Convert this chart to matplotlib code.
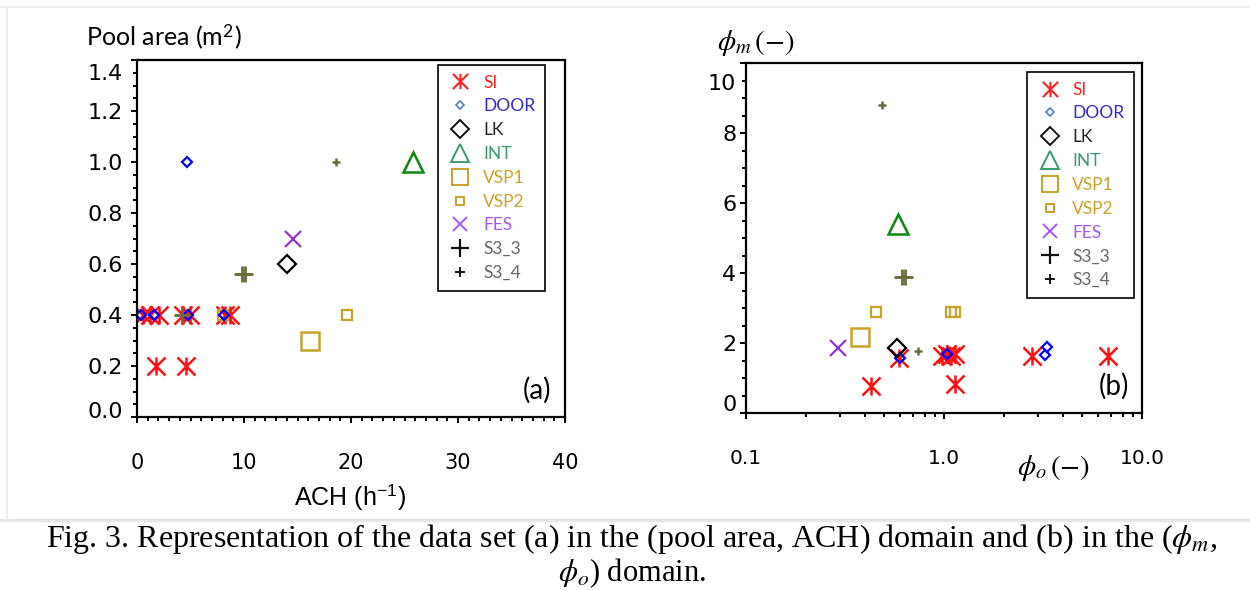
import matplotlib
matplotlib.use('Agg')
import matplotlib.pyplot as plt
from matplotlib.path import Path
from matplotlib.lines import Line2D
from matplotlib.ticker import MultipleLocator, FixedLocator, LogLocator, NullFormatter, FixedFormatter
import matplotlib.transforms as mtransforms

plt.rcParams['mathtext.fontset'] = 'stix'
plt.rcParams['font.family'] = ['Liberation Sans', 'DejaVu Sans']

# ---------------- data: panel (a)  (ACH, pool area) ----------------
a_SI_x = [0.6, 1.2, 2.1, 4.3, 4.95, 8.2, 8.7, 1.8, 4.6]
a_SI_y = [0.4, 0.4, 0.4, 0.4, 0.4, 0.4, 0.4, 0.2, 0.2]
a_DOOR_x = [4.7, 0.4, 1.6, 4.8, 8.1]
a_DOOR_y = [1.0, 0.4, 0.4, 0.4, 0.4]
a_LK_x = [14.0]
a_LK_y = [0.6]
a_INT_x = [25.8]
a_INT_y = [1.0]
a_VSP1_x = [16.2]
a_VSP1_y = [0.3]
a_VSP2_x = [19.6, 8.0]
a_VSP2_y = [0.4, 0.4]
a_FES_x = [14.6]
a_FES_y = [0.7]
a_S33_x = [9.8, 10.1, 4.2]
a_S33_y = [0.56, 0.56, 0.4]
a_S34_x = [18.6]
a_S34_y = [1.0]

# ---------------- data: panel (b)  (phi_o, phi_m) ----------------
b_SI_x = [0.43, 0.59, 0.98, 1.03, 1.08, 1.13, 1.13, 2.77, 6.7]
b_SI_y = [0.77, 1.56, 1.64, 1.68, 1.64, 1.68, 0.83, 1.64, 1.62]
b_DOOR_x = [0.60, 1.03, 3.23, 3.31]
b_DOOR_y = [1.58, 1.70, 1.66, 1.88]
b_LK_x = [0.577]
b_LK_y = [1.87]
b_INT_x = [0.586]
b_INT_y = [5.4]
b_VSP1_x = [0.378]
b_VSP1_y = [2.16]
b_VSP2_x = [0.454, 1.09, 1.13]
b_VSP2_y = [2.88, 2.89, 2.90]
b_FES_x = [0.291]
b_FES_y = [1.85]
b_S33_x = [0.612, 0.632]
b_S33_y = [3.9, 3.9]
b_S34_x = [0.739, 0.485]
b_S34_y = [1.78, 8.8]

legend_labels = ['SI', 'DOOR', 'LK', 'INT', 'VSP1', 'VSP2', 'FES', 'S3_3', 'S3_4']
a_xticks = [0, 10, 20, 30, 40]
a_yticks = [0.0, 0.2, 0.4, 0.6, 0.8, 1.0, 1.2, 1.4]
a_ytick_labels = ['0.0', '0.2', '0.4', '0.6', '0.8', '1.0', '1.2', '1.4']
b_xticks = [0.1, 1.0, 10.0]
b_xtick_labels = ['0.1', '1.0', '10.0']
b_yticks = [0, 2, 4, 6, 8, 10]
b_ytick_labels = ['0', '2', '4', '6', '8', '10']

# ---------------- styles ----------------
ast = Path([(0, -1), (0, 1), (-1, -1), (1, 1), (-1, 1), (1, -1)],
           [Path.MOVETO, Path.LINETO, Path.MOVETO, Path.LINETO, Path.MOVETO, Path.LINETO])

C_SI = '#ff1010'
C_DOOR = '#0000ff'
C_LK = '#000000'
C_INT = '#0a8a0a'
C_VSP = '#c9a227'
C_FES = '#9932cc'
C_S3 = '#6b6b3c'

data_styles = {
    'SI':   dict(marker=ast, ms=13, mec=C_SI, mew=1.8),
    'DOOR': dict(marker='D', ms=4.6, mec=C_DOOR, mew=1.6),
    'LK':   dict(marker='D', ms=9.5, mec=C_LK, mew=1.6),
    'INT':  dict(marker='^', ms=15, mec=C_INT, mew=1.8),
    'VSP1': dict(marker='s', ms=13, mec=C_VSP, mew=1.8),
    'VSP2': dict(marker='s', ms=6.5, mec=C_VSP, mew=1.6),
    'FES':  dict(marker='x', ms=11, mec=C_FES, mew=1.6),
    'S33':  dict(marker='+', ms=12, mec=C_S3, mew=2.0),
    'S34':  dict(marker='+', ms=6, mec=C_S3, mew=1.8),
}

leg_marker_colors = ['#ff2020', '#4a7fd0', '#111111', '#3a9a6a', '#c9a227', '#c9a227', '#a855f7', '#111111', '#111111']
leg_text_colors = ['#ff2020', '#2b2bd6', '#222222', '#3a9a6a', '#d0a025', '#d0a025', '#a855f7', '#666666', '#666666']
leg_markers = [ast, 'D', 'D', '^', 's', 's', 'x', '+', '+']
leg_ms = [11, 4.0, 9.0, 13, 12, 6, 10.5, 13, 6.5]
leg_mew = [1.5, 1.2, 1.4, 1.4, 1.4, 1.4, 1.4, 1.6, 1.4]


def plot_series(ax, xs, ys, key):
    st = data_styles[key]
    ax.plot(xs, ys, linestyle='none', marker=st['marker'], markersize=st['ms'],
            markeredgecolor=st['mec'], markerfacecolor='none', markeredgewidth=st['mew'])


def add_legend(ax, anchor):
    handles = []
    for m, c, s, w in zip(leg_markers, leg_marker_colors, leg_ms, leg_mew):
        handles.append(Line2D([], [], linestyle='none', marker=m, markersize=s,
                              markeredgecolor=c, markerfacecolor='none', markeredgewidth=w))
    leg = ax.legend(handles, legend_labels, loc='upper left', bbox_to_anchor=anchor,
                    borderaxespad=0, frameon=True, fancybox=False, framealpha=1,
                    edgecolor='black', prop={'family': 'Lato', 'size': 12.5},
                    labelspacing=0.45, handlelength=1.5, handletextpad=0.55,
                    borderpad=0.55)
    leg.get_frame().set_linewidth(1.2)
    for t, c in zip(leg.get_texts(), leg_text_colors):
        t.set_color(c)
    return leg


def style_axes(ax, xsize, ysize, ypad):
    for sp in ax.spines.values():
        sp.set_linewidth(1.6)
        sp.set_color('black')
    ax.tick_params(which='both', direction='out', width=1.4, colors='black')
    ax.tick_params(which='major', length=4)
    ax.tick_params(which='minor', length=2.6)
    ax.tick_params(axis='x', which='major', pad=22, labelsize=xsize,
                   labelfontfamily='DejaVu Sans')
    ax.tick_params(axis='y', which='major', pad=ypad, labelsize=ysize,
                   labelfontfamily='DejaVu Sans')
    ax.tick_params(top=False, right=False)


fig = plt.figure(figsize=(12.5, 5.9), dpi=100)
fig.patch.set_facecolor('white')

# ---------------- panel (a) ----------------
ax1 = fig.add_axes([0.1096, 0.2932, 0.3424, 0.6051])
plot_series(ax1, a_SI_x, a_SI_y, 'SI')
plot_series(ax1, a_VSP2_x, a_VSP2_y, 'VSP2')
plot_series(ax1, a_DOOR_x, a_DOOR_y, 'DOOR')
plot_series(ax1, a_LK_x, a_LK_y, 'LK')
plot_series(ax1, a_INT_x, a_INT_y, 'INT')
plot_series(ax1, a_VSP1_x, a_VSP1_y, 'VSP1')
plot_series(ax1, a_FES_x, a_FES_y, 'FES')
plot_series(ax1, a_S33_x, a_S33_y, 'S33')
plot_series(ax1, a_S34_x, a_S34_y, 'S34')
ax1.set_xlim(0, 40)
ax1.set_ylim(0, 1.4)
ax1.xaxis.set_major_locator(FixedLocator(a_xticks))
ax1.xaxis.set_minor_locator(MultipleLocator(1))
ax1.yaxis.set_major_locator(FixedLocator(a_yticks))
ax1.yaxis.set_major_formatter(FixedFormatter(a_ytick_labels))
ax1.yaxis.set_minor_locator(MultipleLocator(0.05))
style_axes(ax1, 15, 16, 6)
add_legend(ax1, (0.703, 0.986))
ax1.text(0.968, 0.075, '(a)', transform=ax1.transAxes, ha='right', va='center',
         fontsize=20, family='Lato')

# ---------------- panel (b) ----------------
ax2 = fig.add_axes([0.5968, 0.3, 0.3168, 0.5932])
ax2.set_xscale('log')
plot_series(ax2, b_SI_x, b_SI_y, 'SI')
plot_series(ax2, b_DOOR_x, b_DOOR_y, 'DOOR')
plot_series(ax2, b_LK_x, b_LK_y, 'LK')
plot_series(ax2, b_INT_x, b_INT_y, 'INT')
plot_series(ax2, b_VSP1_x, b_VSP1_y, 'VSP1')
plot_series(ax2, b_VSP2_x, b_VSP2_y, 'VSP2')
plot_series(ax2, b_FES_x, b_FES_y, 'FES')
plot_series(ax2, b_S33_x, b_S33_y, 'S33')
plot_series(ax2, b_S34_x, b_S34_y, 'S34')
ax2.set_xlim(0.1, 10)
ax2.set_ylim(0, 10)
ax2.xaxis.set_major_locator(FixedLocator(b_xticks))
ax2.xaxis.set_major_formatter(FixedFormatter(b_xtick_labels))
ax2.xaxis.set_minor_locator(LogLocator(base=10, subs=(2, 3, 4, 5, 6, 7, 8, 9)))
ax2.xaxis.set_minor_formatter(NullFormatter())
ax2.yaxis.set_major_locator(FixedLocator(b_yticks))
ax2.yaxis.set_major_formatter(FixedFormatter(b_ytick_labels))
ax2.yaxis.set_minor_locator(MultipleLocator(0.5))
style_axes(ax2, 14.5, 16, 3)
add_legend(ax2, (0.7096, 0.974))
ax2.text(0.968, 0.075, '(b)', transform=ax2.transAxes, ha='right', va='center',
         fontsize=20, family='Lato')

# ---------------- axis titles ----------------
W, H = 1250.0, 590.0
fig.text(86 / W, 1 - 37 / H, 'Pool area (m$^{\\mathregular{2}}$)', ha='left', va='center',
         fontsize=18, family='Lato')
fig.text(350 / W, 1 - 498 / H, 'ACH (h$^{\\mathregular{-1}}$)', ha='center', va='center',
         fontsize=18)
fig.text(717 / W, 1 - 43 / H, r'$\phi_m\,(-)$', ha='left', va='center', fontsize=21)
fig.text(1054 / W, 1 - 468 / H, r'$\phi_o\,(-)$', ha='center', va='center', fontsize=21)

# ---------------- caption and page decorations ----------------
fig.add_artist(Line2D([0, 1], [1 - 520 / H, 1 - 520 / H], transform=fig.transFigure,
                      color='#e8e8e8', lw=2.5))
fig.add_artist(Line2D([0.0, 1], [1 - 7 / H, 1 - 7 / H], transform=fig.transFigure,
                      color='#eeeeee', lw=1.5))
fig.add_artist(Line2D([7 / W, 7 / W], [1 - 7 / H, 1 - 520 / H], transform=fig.transFigure,
                      color='#eeeeee', lw=1.5))
fig.text(632 / W, 1 - 539 / H,
         r'Fig. 3. Representation of the data set (a) in the (pool area, ACH) domain and (b) in the ($\phi_m$,',
         ha='center', va='center', fontsize=23, family='Liberation Serif')
fig.text(632 / W, 1 - 573 / H, r'$\phi_o$) domain.', ha='center', va='center',
         fontsize=22, family='Liberation Serif')

# shift extreme y tick labels inward, like the reference
fig.canvas.draw()


def shift_label(lab, dy_px):
    off = mtransforms.ScaledTranslation(0, dy_px / 100.0, fig.dpi_scale_trans)
    lab.set_transform(lab.get_transform() + off)


yl1 = ax1.get_yticklabels()
shift_label(yl1[0], 7)
shift_label(yl1[-1], -12)
yl2 = ax2.get_yticklabels()
shift_label(yl2[0], 10)
shift_label(yl2[-1], -19)

fig.savefig('out.png', dpi=100, facecolor='white')
